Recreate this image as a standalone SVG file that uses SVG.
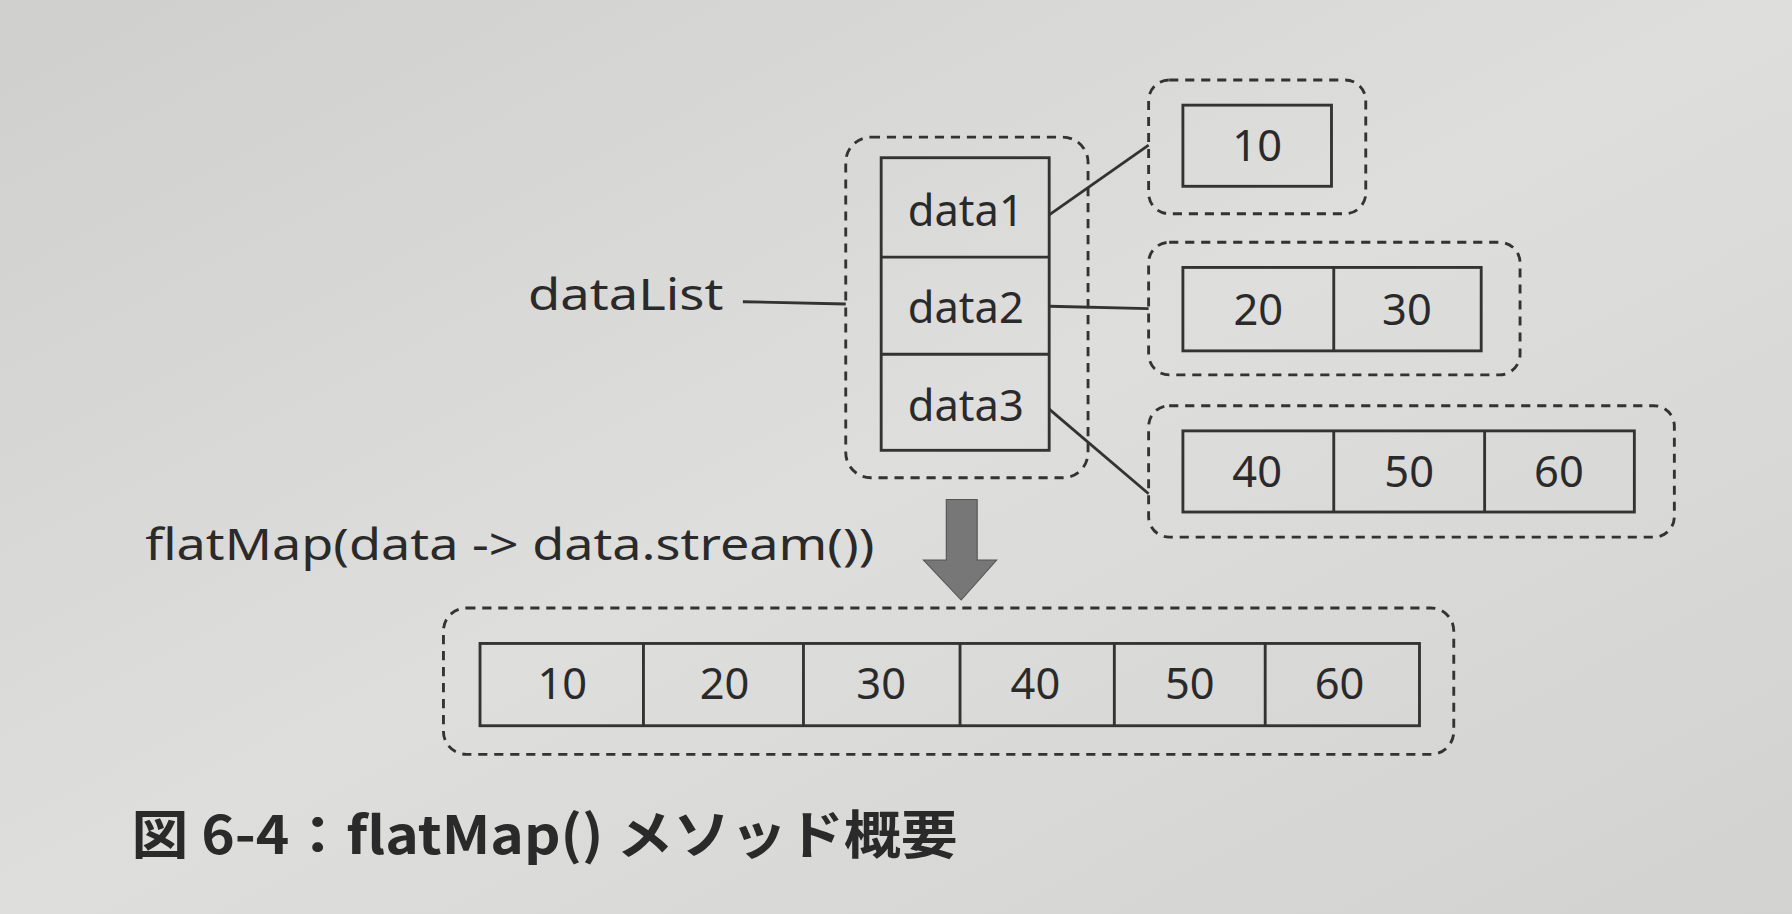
<svg xmlns="http://www.w3.org/2000/svg" width="1792" height="914" viewBox="0 0 1792 914">
<style>
.d{fill:none;stroke:#333;stroke-width:2.5;stroke-dasharray:8 6}
.c{fill:none;stroke:#333;stroke-width:2.5}
.t{font-family:"Noto Sans","DejaVu Sans",sans-serif;font-size:38px;fill:#2a2a2a}
.n{text-anchor:middle}
</style>
<defs><linearGradient id="bg" x1="0" y1="0" x2="1" y2="1"><stop offset="0" stop-color="#cfcfcd"/><stop offset="0.5" stop-color="#dededc"/><stop offset="1" stop-color="#d2d2d0"/></linearGradient></defs>
<rect width="1792" height="914" fill="url(#bg)"/>
<g transform="scale(1.1429)">
<g id="connectors">
<line class="c" x1="650" y1="264" x2="740" y2="266"/>
<line class="c" x1="918" y1="188" x2="1005" y2="127"/>
<line class="c" x1="918" y1="268" x2="1005" y2="270"/>
<line class="c" x1="918" y1="358" x2="1005" y2="432"/>
<polygon points="828,437 855,437 855,490 872,490 841,525 808,490 828,490" fill="#777" stroke="#555" stroke-width="1"/>
</g>
<g id="dataList">
<rect class="d" x="740" y="120" width="212" height="298" rx="22"/>
<rect class="c" x="771" y="138" width="147" height="256"/>
<line class="c" x1="771" y1="225" x2="918" y2="225"/>
<line class="c" x1="771" y1="310" x2="918" y2="310"/>
<text class="t n" x="845" y="198">data1</text>
<text class="t n" x="845" y="283">data2</text>
<text class="t n" x="845" y="368">data3</text>
<text class="t" x="462" y="271" textLength="171" lengthAdjust="spacingAndGlyphs">dataList</text>
</g>
<g id="list1">
<rect class="d" x="1005" y="70" width="190" height="117" rx="18"/>
<rect class="c" x="1035" y="92" width="130" height="71"/>
<text class="t n" x="1100" y="141">10</text>
</g>
<g id="list2">
<rect class="d" x="1005" y="212" width="325" height="116" rx="18"/>
<rect class="c" x="1035" y="234" width="261" height="73"/>
<line class="c" x1="1167" y1="234" x2="1167" y2="307"/>
<text class="t n" x="1101" y="284">20</text>
<text class="t n" x="1231" y="284">30</text>
</g>
<g id="list3">
<rect class="d" x="1005" y="355" width="460" height="115" rx="18"/>
<rect class="c" x="1035" y="377" width="395" height="71"/>
<line class="c" x1="1167" y1="377" x2="1167" y2="448"/>
<line class="c" x1="1299" y1="377" x2="1299" y2="448"/>
<text class="t n" x="1100" y="426">40</text>
<text class="t n" x="1233" y="426">50</text>
<text class="t n" x="1364" y="426">60</text>
</g>
<text class="t" x="127" y="490" textLength="638" lengthAdjust="spacingAndGlyphs">flatMap(data -&gt; data.stream())</text>
<g id="result">
<rect class="d" x="388" y="532" width="884" height="128" rx="20"/>
<rect class="c" x="420" y="563" width="822" height="72"/>
<line class="c" x1="563" y1="563" x2="563" y2="635"/>
<line class="c" x1="703" y1="563" x2="703" y2="635"/>
<line class="c" x1="840" y1="563" x2="840" y2="635"/>
<line class="c" x1="975" y1="563" x2="975" y2="635"/>
<line class="c" x1="1107" y1="563" x2="1107" y2="635"/>
<text class="t n" x="492" y="612">10</text>
<text class="t n" x="634" y="612">20</text>
<text class="t n" x="771" y="612">30</text>
<text class="t n" x="906" y="612">40</text>
<text class="t n" x="1041" y="612">50</text>
<text class="t n" x="1172" y="612">60</text>
</g>
<text x="115" y="747" font-family="'Noto Sans CJK JP',sans-serif" font-size="46" font-weight="bold" fill="#2a2a2a" textLength="723" lengthAdjust="spacingAndGlyphs">図 6-4：flatMap() メソッド概要</text>
</g>
</svg>
